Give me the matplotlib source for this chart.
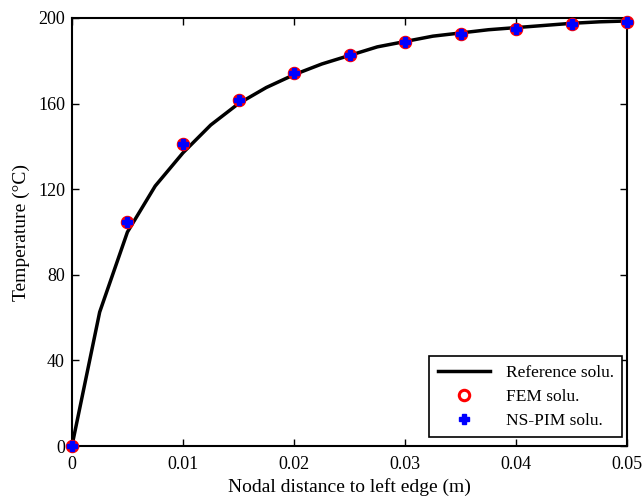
import numpy as np
import matplotlib
matplotlib.use("Agg")
import matplotlib.pyplot as plt

plt.rcParams['font.family'] = ['Liberation Serif', 'DejaVu Serif']
plt.rcParams['mathtext.fontset'] = 'stix'

# reference solution (fine nodes)
x_ref = [0, 0.0025, 0.005, 0.0075, 0.01, 0.0125, 0.015, 0.0175, 0.02, 0.0225,
         0.025, 0.0275, 0.03, 0.0325, 0.035, 0.0375, 0.04, 0.0425, 0.045, 0.0475, 0.05]
t_ref = [0, 62.6, 100, 121.5, 137, 150, 160, 167.5, 173.5, 178.5,
         182.5, 186.5, 189, 191.5, 193, 194.5, 195.5, 196.5, 197.5, 198.2, 198.6]

# numerical solutions at coarse nodes
x_num = [0, 0.005, 0.01, 0.015, 0.02, 0.025, 0.03, 0.035, 0.04, 0.045, 0.05]
t_fem = [0, 104.7, 141.1, 161.7, 174.3, 182.7, 188.8, 192.5, 194.9, 197.2, 198.1]
t_nspim = [0, 104.7, 141.1, 161.7, 174.3, 182.7, 188.8, 192.5, 194.9, 197.2, 198.1]

fig = plt.figure(figsize=(6.42, 4.99), dpi=100)
ax = fig.add_axes([0.112, 0.106, 0.865, 0.858])

ax.plot(x_ref, t_ref, '-', color='black', lw=2.5, label='Reference solu.')
ax.plot(x_num, t_fem, 'o', mfc='none', mec='red', mew=2.2, ms=7.5,
        label='FEM solu.', clip_on=False, zorder=3)
ax.plot(x_num, t_nspim, 'P', color='blue', ms=7, mec='blue',
        label='NS-PIM solu.', clip_on=False, zorder=4)

ax.set_xlim(0, 0.05)
ax.set_ylim(0, 200)
ax.set_xticks([0, 0.01, 0.02, 0.03, 0.04, 0.05])
ax.set_xticklabels(['0', '0.01', '0.02', '0.03', '0.04', '0.05'])
ax.set_yticks([0, 40, 80, 120, 160, 200])
ax.tick_params(direction='in', length=5, width=1, labelsize=13, top=True, right=True)
ax.tick_params(axis='x', pad=7)
ax.tick_params(axis='y', pad=5)
for s in ax.spines.values():
    s.set_linewidth(1.5)

ax.set_xlabel('Nodal distance to left edge (m)', fontsize=14, labelpad=4)
ax.set_ylabel('Temperature (\u00b0C)', fontsize=14, labelpad=6)

leg = ax.legend(loc='lower right', fontsize=12.5, frameon=True, fancybox=False,
                edgecolor='black', framealpha=1, borderpad=0.5, handlelength=3.0,
                handletextpad=0.9, labelspacing=0.45, bbox_to_anchor=(1.007, 0.0))
leg.get_frame().set_linewidth(1.2)

fig.savefig('out.png', dpi=100)
